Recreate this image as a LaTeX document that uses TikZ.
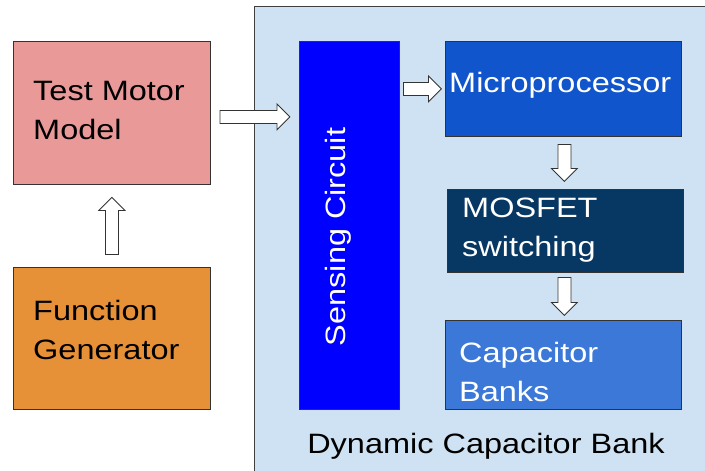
\documentclass[tikz,border=0pt]{standalone}
\usepackage{fontspec}
\setmainfont{Liberation Sans}[FakeStretch=1.16]
\usetikzlibrary{calc}

\definecolor{motorred}{HTML}{EA9999}
\definecolor{genorange}{HTML}{E69138}
\definecolor{banklight}{HTML}{CFE2F3}
\definecolor{senseblue}{HTML}{0000FF}
\definecolor{microblue}{HTML}{1155CC}
\definecolor{mosnavy}{HTML}{073763}
\definecolor{capblue}{HTML}{3C78D8}
\definecolor{edge}{HTML}{333333}

\tikzset{
  block/.style={draw=edge, line width=0.8pt, anchor=north west, inner sep=0pt},
  lbl/.style={anchor=base west, inner sep=0pt, font=\fontsize{28}{39}\selectfont},
  wlbl/.style={lbl, text=white},
  arrowline/.style={draw=edge, fill=white, line width=0.8pt, line join=miter},
  % hollow block arrow of total length #1, pointing along local +x
  pics/blockarrow/.style={code={
    \path[arrowline]
      ({-#1/2},-6.5) -- ({#1/2-13},-6.5) -- ({#1/2-13},-13) -- ({#1/2},0)
      -- ({#1/2-13},13) -- ({#1/2-13},6.5) -- ({-#1/2},6.5) -- cycle;
  }},
}

\newcommand{\twolines}[2]{\vtop{\hbox{#1}\hbox{#2}}}

\begin{document}
\begin{tikzpicture}[x=1pt, y=-1pt]
  \useasboundingbox (0,0) rectangle (705,471);
  \fill[white] (0,0) rectangle (705,471);

  % outer panel of the dynamic capacitor bank
  \node[block, fill=banklight, line width=1.2pt, draw=black!75,
        minimum width=470pt, minimum height=480pt] (dcb) at (254,6) {};

  % left-hand blocks
  \node[block, fill=motorred, minimum width=197pt, minimum height=143pt] (tm) at (13,41) {};
  \node[block, fill=genorange, minimum width=197pt, minimum height=142pt] (fg) at (13,267) {};

  % blocks inside the panel
  \node[block, fill=senseblue, minimum width=100pt, minimum height=368pt] (sc) at (299,41) {};
  \node[block, fill=microblue, minimum width=236pt, minimum height=95pt] (mp) at (445,41) {};
  \node[block, fill=mosnavy, minimum width=236pt, minimum height=83pt] (mos) at (447,189) {};
  \node[block, fill=capblue, minimum width=236pt, minimum height=89pt] (cap) at (445,320) {};

  % labels
  \node[lbl] (tmtext) at (33,100) {\twolines{Test Motor}{Model}};
  \node[lbl] (fgtext) at (33,320) {\twolines{Function}{Generator}};
  \node[wlbl] (mptext) at (449,92) {Microprocessor};
  \node[wlbl] (mostext) at (462,217) {\twolines{MOSFET}{switching}};
  \node[wlbl] (captext) at (459,362) {\twolines{Capacitor}{Banks}};
  \node[wlbl, anchor=base, rotate=90] (sctext) at (345,237) {Sensing Circuit};
  \node[lbl, anchor=base] (dcbtext) at (486,453) {Dynamic Capacitor Bank};

  % block arrows between the stages
  \pic[rotate=90] (a1) at ($(fg.north)!0.5!(tm.south)$) {blockarrow=57};
  \pic (a2) at ($(tm.east)!0.5!(tm.east -| sc.west) + (0,4)$) {blockarrow=70};
  \pic (a3) at ($(sc.east |- mp.west)!0.5!(mp.west)$) {blockarrow=38};
  \pic[rotate=-90] (a4) at ($(mp.south)!0.5!(mos.north)$) {blockarrow=37};
  \pic[rotate=-90] (a5) at ($(mos.south)!0.5!(cap.north)$) {blockarrow=38};
\end{tikzpicture}
\end{document}
